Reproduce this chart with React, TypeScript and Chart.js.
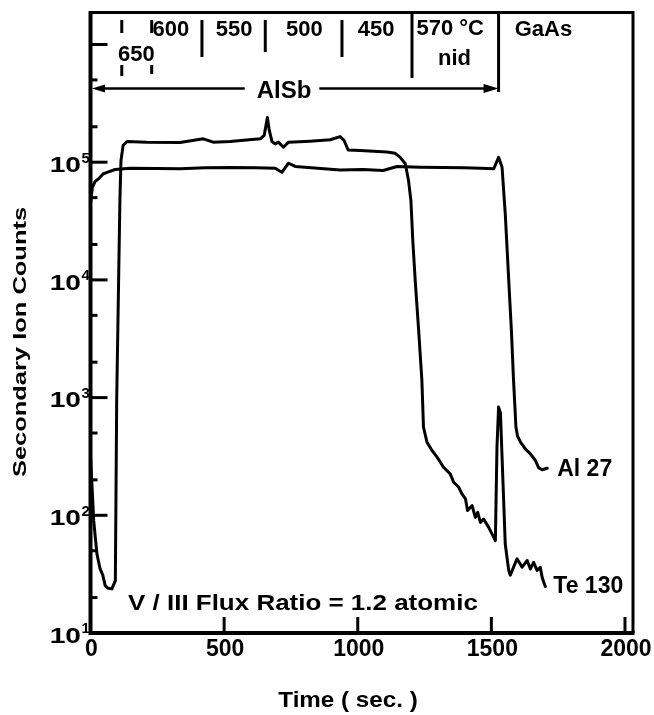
import React, { useEffect, useRef } from 'react';
import { Chart, registerables } from 'chart.js';

Chart.register(...registerables);

// ---------- data ----------
const alTime = [0, 7, 17, 31, 47, 62, 92, 148, 250, 335, 430, 522, 620, 691, 716, 741, 766, 850, 934, 1020, 1095, 1147, 1234, 1320, 1396, 1460, 1509, 1527, 1540, 1546, 1552, 1565, 1575, 1583, 1592, 1598, 1609, 1627, 1646, 1665, 1677, 1690, 1709];
const alCounts = [45000, 61000, 68500, 72600, 79400, 82000, 86700, 89000, 88500, 88000, 89500, 90000, 89500, 89000, 82000, 98000, 92000, 89000, 86000, 86500, 85000, 92000, 90700, 90000, 89600, 89000, 88000, 110000, 90700, 57500, 36500, 9900, 3700, 1400, 560, 470, 418, 367, 333, 292, 253, 244, 251];

const teTime = [0, 4, 6, 12, 18, 24, 36, 46, 55, 66, 80, 93, 98, 104, 110, 114, 122, 137, 210, 335, 422, 459, 522, 635, 650, 662, 669, 679, 691, 703, 722, 741, 822, 897, 934, 949, 964, 1009, 1109, 1140, 1159, 1178, 1190, 1199, 1206, 1215, 1228, 1240, 1246, 1259, 1278, 1297, 1321, 1346, 1359, 1378, 1390, 1403, 1411, 1428, 1440, 1449, 1459, 1471, 1490, 1515, 1521, 1527, 1534, 1552, 1565, 1571, 1596, 1615, 1634, 1646, 1658, 1671, 1683, 1690, 1696, 1702];
const teCounts = [320, 209, 172, 90, 65, 47, 35, 31, 25.3, 24, 23.7, 27.9, 944, 6700, 47000, 103000, 139000, 150000, 148000, 147000, 158000, 148000, 150000, 158000, 169000, 240000, 186000, 150000, 143000, 148000, 134000, 148000, 151000, 155000, 165000, 153000, 127000, 126000, 122000, 119000, 110000, 97000, 70000, 47000, 21600, 9900, 3700, 1400, 561, 418, 355, 312, 256, 225, 191, 173, 152, 138, 110, 121, 96, 106, 87, 93, 79, 61, 380, 830, 740, 57, 34, 31, 42.7, 36.3, 41.3, 35, 39.8, 34, 36.2, 29.8, 27, 24.8];

const seriesNames = ['Al 27', 'Te 130'];

// axis ticks
const xTickValues = [0, 500, 1000, 1500, 2000];
const xInnerTicks = [500, 1000, 1500, 2000];
const yLabelValues = [1e1, 1e2, 1e3, 1e4, 1e5];
const yMajorTicks = [1e1, 1e2, 1e3, 1e4, 1e5, 1e6];
const yMinorTicks = [20, 50, 200, 500, 2000, 5000, 20000, 50000, 200000, 500000];

// growth-layer annotations (time in s)
const layerBoundaries = [117, 229, 417, 654, 941, 1203, 1527];
const temperatureLabels = ['650', '600', '550', '500', '450', '570 °C', 'nid', 'GaAs'];
const temperatureLabelTimes = [172, 301, 537, 800, 1069, 1346, 1362, 1695];
const layerName = 'AlSb';
const layerStart = 0;
const layerEnd = 1527;
const fluxNote = 'V / III Flux Ratio = 1.2 atomic';
const xTitle = 'Time ( sec. )';
const yTitle = 'Secondary Ion Counts';

const FONT = '"Liberation Sans", Arial, Helvetica, sans-serif';

function drawText(
  ctx: CanvasRenderingContext2D,
  s: string,
  x: number,
  capCenterY: number,
  size: number,
  align: CanvasTextAlign = 'center',
  sx = 1
) {
  ctx.save();
  ctx.font = `bold ${size}px ${FONT}`;
  ctx.textAlign = align;
  ctx.textBaseline = 'alphabetic';
  ctx.fillStyle = '#000';
  ctx.translate(x, capCenterY + size * 0.358);
  ctx.scale(sx, 1);
  ctx.fillText(s, 0, 0);
  ctx.restore();
}

const framePlugin = {
  id: 'sims-frame',
  afterDatasetsDraw(chart: any) {
    const { ctx, chartArea: a, scales } = chart;
    const xs = scales.x;
    const ys = scales.y;
    ctx.save();
    ctx.strokeStyle = '#000';
    ctx.fillStyle = '#000';
    ctx.lineCap = 'butt';

    // frame
    ctx.lineWidth = 3;
    ctx.beginPath();
    ctx.moveTo(a.left, a.top);
    ctx.lineTo(a.right, a.top);
    ctx.lineTo(a.right, a.bottom);
    ctx.stroke();
    ctx.lineWidth = 4;
    ctx.beginPath();
    ctx.moveTo(a.left, a.top - 1.5);
    ctx.lineTo(a.left, a.bottom);
    ctx.lineTo(a.right + 1.5, a.bottom);
    ctx.stroke();

    // y ticks (inward)
    ctx.lineWidth = 3;
    yMajorTicks.forEach((v) => {
      const py = ys.getPixelForValue(v);
      ctx.beginPath();
      ctx.moveTo(a.left, py);
      ctx.lineTo(a.left + 17, py);
      ctx.stroke();
    });
    yMinorTicks.forEach((v) => {
      const py = ys.getPixelForValue(v);
      ctx.beginPath();
      ctx.moveTo(a.left, py);
      ctx.lineTo(a.left + 7, py);
      ctx.stroke();
    });
    // x ticks (inward)
    xInnerTicks.forEach((v) => {
      const px = xs.getPixelForValue(v);
      ctx.beginPath();
      ctx.moveTo(px, a.bottom);
      ctx.lineTo(px, a.bottom - 16);
      ctx.stroke();
    });

    // x tick labels
    xTickValues.forEach((v) => {
      drawText(ctx, String(v), xs.getPixelForValue(v) + 1, a.bottom + 15, 23, 'center');
    });
    // y tick labels 10^n
    yLabelValues.forEach((v) => {
      const py = ys.getPixelForValue(v);
      const exp = String(Math.round(Math.log10(v)));
      drawText(ctx, '10', a.left - 9.5, py + 2, 22, 'right', 1.28);
      drawText(ctx, exp, a.left - 9, py - 5, 15, 'left');
    });

    // axis titles
    drawText(ctx, xTitle, 348, 699, 22, 'center', 1.1);
    ctx.save();
    ctx.translate(19, 342);
    ctx.rotate(-Math.PI / 2);
    ctx.font = `bold 19px ${FONT}`;
    ctx.textAlign = 'center';
    ctx.textBaseline = 'alphabetic';
    ctx.scale(1.34, 1);
    ctx.fillText(yTitle, 0, 19 * 0.358);
    ctx.restore();

    // layer boundary bars at top
    const barSpans: [number, number][][] = [
      [[20, 33], [65, 76]],
      [[20, 33], [65, 74]],
      [[20, 57]],
      [[20, 52]],
      [[20, 57]],
      [[14, 78]],
      [[14, 92]],
    ];
    ctx.lineWidth = 3;
    layerBoundaries.forEach((t, i) => {
      const px = xs.getPixelForValue(t);
      barSpans[i].forEach(([y0, y1]) => {
        ctx.beginPath();
        ctx.moveTo(px, y0);
        ctx.lineTo(px, y1);
        ctx.stroke();
      });
    });

    // temperature labels
    const labelY = [53, 28, 28, 28, 28, 27, 57, 28];
    temperatureLabels.forEach((s, i) => {
      drawText(ctx, s, xs.getPixelForValue(temperatureLabelTimes[i]), labelY[i], 22, 'center');
    });

    // AlSb arrow
    const ay = 88.5;
    const x0 = xs.getPixelForValue(layerStart) + 1.5;
    const x1 = xs.getPixelForValue(layerEnd);
    ctx.font = `bold 24px ${FONT}`;
    const tw = ctx.measureText(layerName).width;
    const tc = 284;
    ctx.lineWidth = 2.5;
    ctx.beginPath();
    ctx.moveTo(x0 + 10, ay);
    ctx.lineTo(tc - tw / 2 - 12, ay);
    ctx.moveTo(tc + tw / 2 + 8, ay);
    ctx.lineTo(x1 - 12, ay);
    ctx.stroke();
    ctx.beginPath();
    ctx.moveTo(x0, ay);
    ctx.lineTo(x0 + 13, ay - 4);
    ctx.lineTo(x0 + 13, ay + 4);
    ctx.closePath();
    ctx.fill();
    ctx.beginPath();
    ctx.moveTo(x1, ay);
    ctx.lineTo(x1 - 15, ay - 4.5);
    ctx.lineTo(x1 - 15, ay + 4.5);
    ctx.closePath();
    ctx.fill();
    drawText(ctx, layerName, tc, 89, 24, 'center');

    // series end labels
    const alEndX = xs.getPixelForValue(alTime[alTime.length - 1]);
    const alEndY = ys.getPixelForValue(alCounts[alCounts.length - 1]);
    drawText(ctx, seriesNames[0], alEndX + 10, alEndY, 23, 'left');
    const teEndX = xs.getPixelForValue(teTime[teTime.length - 1]);
    const teEndY = ys.getPixelForValue(teCounts[teCounts.length - 1]);
    drawText(ctx, seriesNames[1], teEndX + 8, teEndY - 2, 23, 'left');

    // flux note
    drawText(ctx, fluxNote, 128, 602, 22, 'left', 1.18);

    ctx.restore();
  },
};

export default function App() {
  const canvasRef = useRef<HTMLCanvasElement | null>(null);

  useEffect(() => {
    const canvas = canvasRef.current;
    if (!canvas) return;
    const chart = new Chart(canvas, {
      type: 'line',
      data: {
        datasets: [
          {
            label: seriesNames[0],
            data: alTime.map((t, i) => ({ x: t, y: alCounts[i] })),
            borderColor: '#000',
            borderWidth: 3,
            pointRadius: 0,
            tension: 0,
            fill: false,
            borderJoinStyle: 'round',
            borderCapStyle: 'round',
          },
          {
            label: seriesNames[1],
            data: teTime.map((t, i) => ({ x: t, y: teCounts[i] })),
            borderColor: '#000',
            borderWidth: 3,
            pointRadius: 0,
            tension: 0,
            fill: false,
            borderJoinStyle: 'round',
            borderCapStyle: 'round',
          },
        ],
      },
      options: {
        animation: false,
        responsive: false,
        devicePixelRatio: 1,
        layout: { padding: { left: 90.5, top: 12.5, right: 21, bottom: 82 } },
        plugins: { legend: { display: false }, tooltip: { enabled: false } },
        scales: {
          x: { type: 'linear', min: 0, max: 2030, display: false },
          y: { type: 'logarithmic', min: 10, max: 1.87e6, display: false },
        },
      } as any,
      plugins: [framePlugin],
    });
    return () => chart.destroy();
  }, []);

  return (
    <div style={{ position: 'absolute', left: 0, top: 0, width: 654, height: 715, background: '#fff' }}>
      <canvas ref={canvasRef} width={654} height={715} />
    </div>
  );
}
